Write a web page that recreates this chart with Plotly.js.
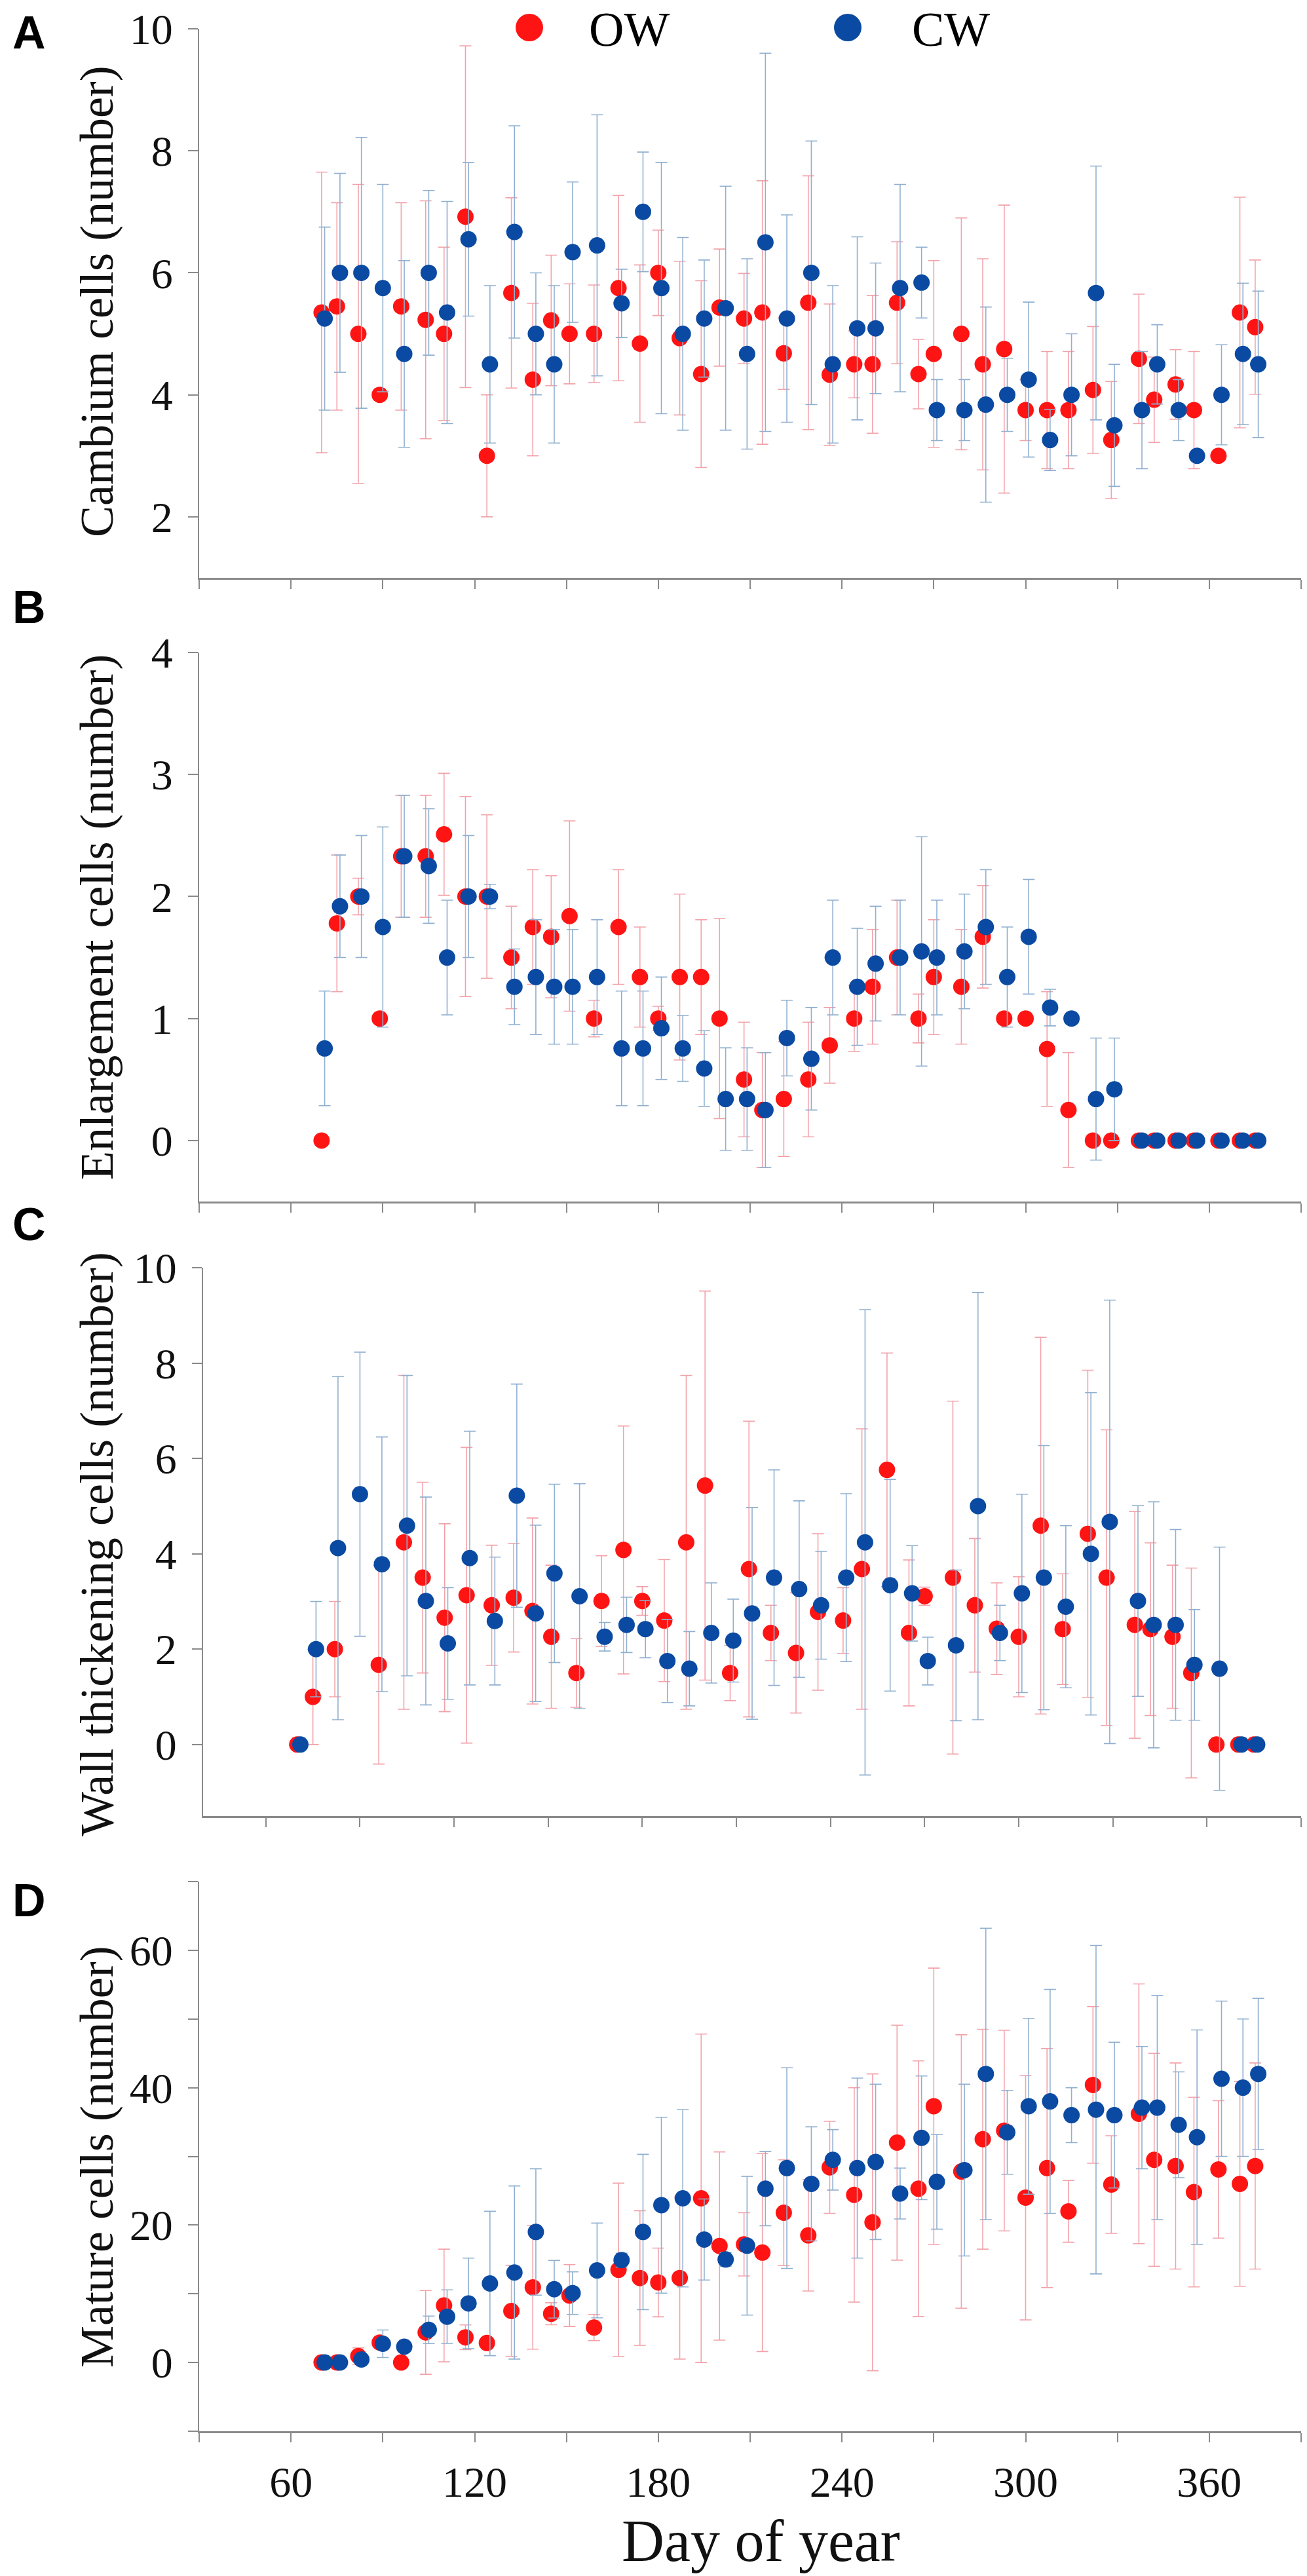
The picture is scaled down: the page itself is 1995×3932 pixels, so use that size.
<!DOCTYPE html>
<html>
<head>
<meta charset="utf-8">
<script src="https://cdn.plot.ly/plotly-3.0.1.min.js"></script>
<style>html,body{margin:0;padding:0;background:#fff}</style>
</head>
<body>
<div id="chart" style="width:1995px;height:3932px"></div>
<script>
// sampling days (CW plotted one day later than OW in the figure)
const owDay = [70, 75, 82, 89, 96, 104, 110, 117, 124, 132, 139, 145, 151, 159, 167, 174, 180, 187, 194, 200, 208, 214, 221, 229, 236, 244, 250, 258, 265, 270, 279, 286, 293, 300, 307, 314, 322, 328, 337, 342, 349, 355, 363, 370, 375];
const cwDay = [71, 76, 83, 90, 97, 105, 111, 118, 125, 133, 140, 146, 152, 160, 168, 175, 181, 188, 195, 202, 209, 215, 222, 230, 237, 245, 251, 259, 266, 271, 280, 287, 294, 301, 308, 315, 323, 329, 338, 343, 350, 356, 364, 371, 376];

// A: cambium cells
const owCambium = [5.35, 5.45, 5.0, 4.0, 5.45, 5.23, 5.0, 6.92, 3.0, 5.67, 4.25, 5.22, 5.0, 5.0, 5.75, 4.84, 6.0, 4.93, 4.34, 5.43, 5.25, 5.35, 4.68, 5.51, 4.33, 4.5, 4.5, 5.51, 4.34, 4.67, 5.0, 4.5, 4.75, 3.75, 3.75, 3.75, 4.08, 3.26, 4.59, 3.92, 4.17, 3.75, 3.0, 5.35, 5.11];
const owCambiumSd = [2.3, 1.7, 2.45, 0, 1.7, 1.95, 1.42, 2.8, 1.0, 1.56, 1.25, 1.07, 0.82, 0.8, 1.52, 1.29, 0.7, 1.26, 1.53, 0.96, 0.74, 2.16, 0.59, 2.08, 1.16, 0.55, 1.13, 1.0, 0.57, 1.53, 1.9, 1.73, 2.36, 0.5, 0.96, 0.96, 1.04, 0.96, 1.06, 0.7, 0.57, 0.96, 0, 1.89, 1.1];
const cwCambium = [5.25, 6.0, 6.0, 5.75, 4.67, 6.0, 5.35, 6.55, 4.5, 6.67, 5.0, 4.5, 6.34, 6.45, 5.5, 7.0, 5.75, 5.0, 5.25, 5.42, 4.67, 6.5, 5.25, 6.0, 4.5, 5.09, 5.09, 5.75, 5.84, 3.75, 3.75, 3.84, 4.0, 4.25, 3.26, 4.0, 5.67, 3.5, 3.75, 4.5, 3.75, 3.0, 4.0, 4.67, 4.5];
const cwCambiumSd = [1.5, 1.63, 2.22, 1.7, 1.53, 1.35, 1.82, 1.26, 1.29, 1.74, 1.0, 1.29, 1.15, 2.14, 0.56, 0.98, 2.06, 1.58, 0.96, 2.0, 1.56, 3.1, 1.7, 2.16, 1.29, 1.5, 1.07, 1.7, 0.58, 0.5, 0.5, 1.6, 0.6, 1.27, 0.5, 1.0, 2.08, 1.0, 0.96, 0.65, 0.5, 0, 0.82, 1.16, 1.2];

// B: enlargement cells
const owEnlarge = [0, 1.78, 2.0, 1.0, 2.33, 2.33, 2.51, 2.0, 2.0, 1.5, 1.75, 1.67, 1.84, 1.0, 1.75, 1.34, 1.0, 1.34, 1.34, 1.0, 0.5, 0.25, 0.34, 0.5, 0.78, 1.0, 1.26, 1.5, 1.0, 1.34, 1.26, 1.67, 1.0, 1.0, 0.75, 0.25, 0, 0, 0, 0, 0, 0, 0, 0, 0];
const owEnlargeSd = [0, 0.56, 0.15, 0, 0.5, 0.5, 0.5, 0.82, 0.67, 0.42, 0.47, 0.5, 0.78, 0.15, 0.47, 0.41, 0.1, 0.68, 0.47, 0.82, 0.47, 0.47, 0.47, 0.47, 0.31, 0.27, 0.47, 0.47, 0.2, 0.47, 0.47, 0.42, 0, 0, 0.47, 0.47, 0, 0, 0, 0, 0, 0, 0, 0, 0];
const cwEnlarge = [0.755, 1.92, 2.0, 1.75, 2.33, 2.25, 1.5, 2.0, 2.0, 1.26, 1.34, 1.26, 1.26, 1.34, 0.755, 0.755, 0.92, 0.755, 0.59, 0.34, 0.34, 0.25, 0.84, 0.67, 1.5, 1.26, 1.45, 1.5, 1.55, 1.5, 1.55, 1.75, 1.34, 1.67, 1.09, 1.0, 0.34, 0.42, 0, 0, 0, 0, 0, 0, 0];
const cwEnlargeSd = [0.47, 0.42, 0.5, 0.82, 0.5, 0.47, 0.47, 0.5, 0.1, 0.31, 0.47, 0.47, 0.47, 0.47, 0.47, 0.47, 0.42, 0.27, 0.31, 0.42, 0.42, 0.47, 0.31, 0.42, 0.47, 0.48, 0.47, 0.47, 0.94, 0.47, 0.47, 0.47, 0.41, 0.47, 0.15, 0, 0.5, 0.42, 0, 0, 0, 0, 0, 0, 0];

// C: wall thickening cells
const owWall = [0, 1.0, 2.0, null, 1.67, 4.24, 3.5, 2.66, 3.13, 2.92, 3.08, 2.8, 2.26, 1.5, 3.01, 4.08, 3.01, 2.6, 4.24, 5.43, 1.5, 3.68, 2.34, 1.92, 2.78, 2.6, 3.68, 5.76, 2.34, 3.11, 3.5, 2.92, 2.43, 2.26, 4.59, 2.42, 4.42, 3.5, 2.51, 2.42, 2.26, 1.5, 0, 0, 0];
const owWallSd = [0, 1.0, 1.0, 0, 2.08, 3.5, 2.0, 1.97, 3.1, 1.26, 1.14, 1.95, 1.5, 0.72, 0.95, 2.6, 0.3, 1.28, 3.5, 4.08, 0.58, 3.1, 0.58, 1.26, 1.64, 0.69, 2.94, 2.45, 1.53, 0.19, 3.7, 1.4, 0.96, 1.26, 3.95, 1.16, 3.43, 3.1, 2.38, 1.81, 1.5, 2.2, 0, 0, 0];
const cwWall = [0, 2.0, 4.12, 5.25, 3.78, 4.59, 3.01, 2.12, 3.91, 2.59, 5.22, 2.75, 3.59, 3.11, 2.26, 2.51, 2.42, 1.75, 1.59, 2.34, 2.18, 2.75, 3.5, 3.26, 2.92, 3.5, 4.24, 3.34, 3.17, 1.75, 2.08, 5.0, 2.34, 3.17, 3.5, 2.89, 4.0, 4.67, 3.01, 2.51, 2.51, 1.67, 1.59, 0, 0];
const cwWallSd = [0, 1.0, 3.6, 2.98, 2.67, 3.15, 2.18, 1.17, 2.66, 1.34, 2.34, 1.85, 1.87, 2.36, 0.3, 0.58, 0.6, 0.87, 0.78, 1.05, 0.87, 2.22, 2.26, 1.85, 1.13, 1.76, 4.88, 2.22, 1.0, 0.5, 1.58, 4.48, 0.58, 2.08, 2.77, 1.7, 3.38, 4.65, 2.0, 2.58, 2.0, 1.16, 2.55, 0, 0];

// D: mature cells
const owMature = [0, 0, 0.93, 2.9, 0, 4.38, 8.3, 3.67, 2.84, 7.5, 10.94, 7.1, 9.74, 5.09, 13.5, 12.3, 11.65, 12.3, 23.9, 16.96, 17.2, 16.0, 21.8, 18.5, 28.4, 24.4, 20.4, 32.0, 25.3, 37.3, 27.8, 32.5, 33.75, 24.0, 28.3, 22.0, 40.4, 25.9, 36.2, 29.5, 28.6, 24.8, 28.1, 26.0, 28.6];
const owMatureSd = [0, 0, 1.2, 0.5, 0, 6.1, 8.2, 1.8, 0, 6.6, 9.0, 1.6, 4.5, 1.9, 12.6, 9.8, 5.0, 11.8, 23.9, 13.7, 4.6, 14.4, 7.7, 8.1, 6.7, 15.6, 21.6, 17.1, 18.6, 20.1, 19.9, 16.0, 14.6, 17.8, 17.4, 4.5, 11.4, 7.1, 18.9, 15.5, 15.0, 13.8, 10.0, 14.9, 15.0];
const cwMature = [0, 0, 0.44, 2.73, 2.3, 4.76, 6.67, 8.6, 11.5, 13.1, 19.0, 10.67, 10.1, 13.4, 14.9, 19.0, 22.9, 23.9, 17.9, 15.0, 17.0, 25.3, 28.3, 26.0, 29.5, 28.3, 29.2, 24.6, 32.7, 26.3, 28.0, 42.0, 33.5, 37.3, 38.0, 36.0, 36.8, 36.0, 37.1, 37.1, 34.6, 32.8, 41.3, 40.0, 42.0];
const cwMatureSd = [0, 0, 0.5, 2.0, 0.5, 2.0, 3.9, 6.6, 10.5, 12.6, 9.2, 4.2, 3.1, 6.9, 1.0, 11.3, 12.8, 12.9, 5.9, 1.0, 10.1, 5.4, 14.6, 8.3, 4.4, 13.1, 11.3, 3.7, 9.0, 6.9, 12.5, 21.2, 6.1, 12.8, 16.3, 4.0, 23.9, 10.6, 8.9, 16.3, 7.7, 15.6, 11.3, 10.0, 11.0];

const dayTicks = [30, 60, 90, 120, 150, 180, 210, 240, 270, 300, 330, 360, 390];
const dayLabels = ['', '60', '', '120', '', '180', '', '240', '', '300', '', '360', ''];

const W = 1995, H = 3932;
const px = v => v / W;
const py = v => 1 - v / H;

const owColor = '#ff1414';
const cwColor = '#0b4aa2';
const owBar = '#f2a3aa';
const cwBar = '#90b0d0';
const axisGray = '#8a8a8a';
const serif = 'Liberation Serif, Times New Roman, serif';
const textColor = '#111111';

const panels = [
  { label: 'A', title: 'Cambium cells (number)', ow: owCambium, owSd: owCambiumSd, cw: cwCambium, cwSd: cwCambiumSd,
    top: 44, bottom: 882, left: 304, xrange: [30, 390], yrange: [1, 10],
    yticks: [2, 4, 6, 8, 10], ylabels: ['2', '4', '6', '8', '10'], labelY: 50, titleY: 460 },
  { label: 'B', title: 'Enlargement cells (number)', ow: owEnlarge, owSd: owEnlargeSd, cw: cwEnlarge, cwSd: cwEnlargeSd,
    top: 996, bottom: 1834, left: 304, xrange: [30, 390], yrange: [-0.5, 4],
    yticks: [0, 1, 2, 3, 4], ylabels: ['0', '1', '2', '3', '4'], labelY: 927, titleY: 1400 },
  { label: 'C', title: 'Wall thickening cells (number)', ow: owWall, owSd: owWallSd, cw: cwWall, cwSd: cwWallSd,
    top: 1935, bottom: 2772, left: 310, xrange: [40, 390], yrange: [-1.5, 10],
    yticks: [0, 2, 4, 6, 8, 10], ylabels: ['0', '2', '4', '6', '8', '10'], labelY: 1869, titleY: 2357 },
  { label: 'D', title: 'Mature cells (number)', ow: owMature, owSd: owMatureSd, cw: cwMature, cwSd: cwMatureSd,
    top: 2872, bottom: 3711, left: 304, xrange: [30, 390], yrange: [-10, 70],
    yticks: [-10, 0, 10, 20, 30, 40, 50, 60, 70], ylabels: ['', '0', '', '20', '', '40', '', '60', ''], labelY: 2901, titleY: 3292 }
];

const traces = [];
const layout = {
  width: W,
  height: H,
  margin: { l: 0, r: 0, t: 0, b: 0 },
  paper_bgcolor: '#ffffff',
  plot_bgcolor: '#ffffff',
  showlegend: false,
  font: { family: serif, color: textColor },
  annotations: [],
  shapes: []
};

panels.forEach((p, i) => {
  const n = i === 0 ? '' : String(i + 1);
  const xa = 'x' + n, ya = 'y' + n;
  const isLast = i === panels.length - 1;

  traces.push({
    x: owDay, y: p.ow, xaxis: xa, yaxis: ya, name: 'OW',
    type: 'scatter', mode: 'markers',
    marker: { color: owColor, size: 25, line: { width: 0 } },
    error_y: { type: 'data', array: p.owSd, visible: true, color: owBar, thickness: 1.6, width: 9 },
    cliponaxis: false
  });
  traces.push({
    x: cwDay, y: p.cw, xaxis: xa, yaxis: ya, name: 'CW',
    type: 'scatter', mode: 'markers',
    marker: { color: cwColor, size: 25, line: { width: 0 } },
    error_y: { type: 'data', array: p.cwSd, visible: true, color: cwBar, thickness: 1.6, width: 9 },
    cliponaxis: false
  });

  layout['xaxis' + n] = {
    domain: [px(p.left), px(1986)],
    range: p.xrange,
    anchor: ya,
    tickmode: 'array',
    tickvals: dayTicks,
    ticktext: dayLabels,
    showticklabels: isLast,
    ticks: 'outside', ticklen: 14, tickwidth: 2, tickcolor: axisGray,
    showline: true, linecolor: axisGray, linewidth: 3,
    showgrid: false, zeroline: false,
    ticklabelstandoff: 4,
    tickfont: { family: serif, size: 66, color: textColor }
  };
  layout['yaxis' + n] = {
    domain: [py(p.bottom), py(p.top)],
    range: p.yrange,
    anchor: xa,
    tickmode: 'array',
    tickvals: p.yticks,
    ticktext: p.ylabels,
    ticks: 'outside', ticklen: 15, tickwidth: 2, tickcolor: axisGray,
    showline: true, linecolor: axisGray, linewidth: 2,
    showgrid: false, zeroline: false,
    ticklabelstandoff: 10,
    tickfont: { family: serif, size: 66, color: textColor }
  };

  layout.annotations.push({
    text: p.label, xref: 'paper', yref: 'paper', x: px(44), y: py(p.labelY),
    xanchor: 'center', yanchor: 'middle', showarrow: false,
    font: { family: 'Liberation Sans, Arial, sans-serif', size: 70, color: '#000', weight: 'bold' }
  });
  layout.annotations.push({
    text: p.title, xref: 'paper', yref: 'paper', x: px(148), y: py(p.titleY),
    xanchor: 'center', yanchor: 'middle', showarrow: false, textangle: -90,
    font: { family: serif, size: 72, color: textColor }
  });
});

layout.annotations.push({
  text: 'Day of year', xref: 'paper', yref: 'paper', x: px(1161), y: py(3878),
  xanchor: 'center', yanchor: 'middle', showarrow: false,
  font: { family: serif, size: 90, color: textColor }
});

// legend drawn by hand so the symbols keep their large size
const legendItems = [
  { name: 'OW', color: owColor, dotX: 808, textX: 897 },
  { name: 'CW', color: cwColor, dotX: 1294, textX: 1390 }
];
legendItems.forEach(item => {
  layout.shapes.push({
    type: 'circle', xref: 'paper', yref: 'paper',
    xsizemode: 'pixel', ysizemode: 'pixel',
    xanchor: px(item.dotX), yanchor: py(42),
    x0: -21, x1: 21, y0: -21, y1: 21,
    fillcolor: item.color, line: { width: 0 }
  });
  layout.annotations.push({
    text: item.name, xref: 'paper', yref: 'paper', x: px(item.textX), y: py(2),
    xanchor: 'left', yanchor: 'top', showarrow: false,
    font: { family: serif, size: 74, color: '#000' }
  });
});

Plotly.newPlot('chart', traces, layout, { displayModeBar: false, staticPlot: true });
</script>
</body>
</html>
